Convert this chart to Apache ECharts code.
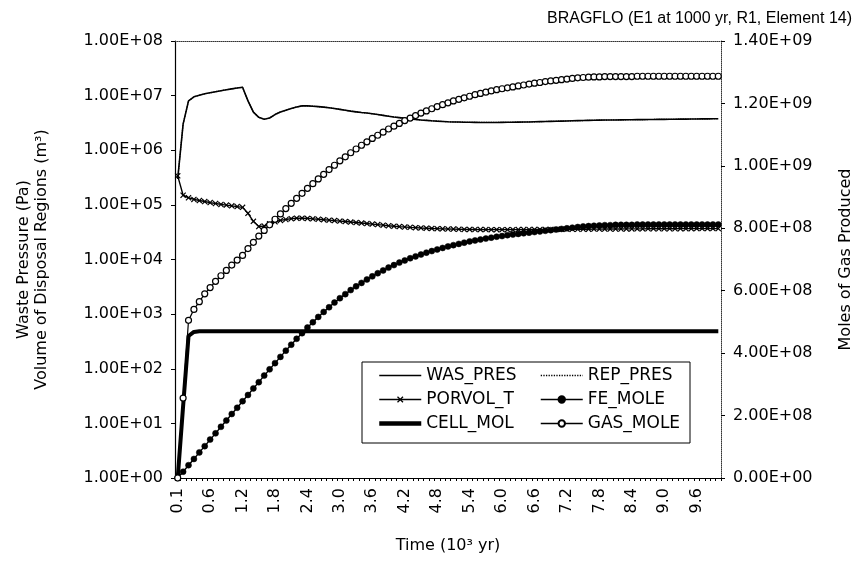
<!DOCTYPE html>
<html>
<head>
<meta charset="utf-8">
<script src="https://cdn.jsdelivr.net/npm/echarts@6/dist/echarts.min.js"></script>
<style>
html,body{margin:0;padding:0;background:#fff;}
#chart{width:862px;height:562px;}
</style>
</head>
<body>
<div id="chart"></div>
<script>
// Time categories (10^3 yr)
const times = ['0.1','0.1','0.2','0.3','0.4','0.5','0.6','0.7','0.8','0.9','1.0',
'1.1','1.2','1.3','1.4','1.5','1.6','1.7','1.8','1.9','2.0',
'2.1','2.2','2.3','2.4','2.5','2.6','2.7','2.8','2.9','3.0',
'3.1','3.2','3.3','3.4','3.5','3.6','3.7','3.8','3.9','4.0',
'4.1','4.2','4.3','4.4','4.5','4.6','4.7','4.8','4.9','5.0',
'5.1','5.2','5.3','5.4','5.5','5.6','5.7','5.8','5.9','6.0',
'6.1','6.2','6.3','6.4','6.5','6.6','6.7','6.8','6.9','7.0',
'7.1','7.2','7.3','7.4','7.5','7.6','7.7','7.8','7.9','8.0',
'8.1','8.2','8.3','8.4','8.5','8.6','8.7','8.8','8.9','9.0',
'9.1','9.2','9.3','9.4','9.5','9.6','9.7','9.8','9.9','10.0'];

// Waste pressure (Pa)
const wasPres = [3.0e5,3.0e6,8.0e6,9.5e6,1.02e7,1.08e7,1.13e7,1.18e7,1.23e7,1.28e7,1.33e7,
1.38e7,1.42e7,8.0e6,5.0e6,4.0e6,3.7e6,3.9e6,4.5e6,5.0e6,5.4e6,
5.8e6,6.2e6,6.5e6,6.5e6,6.4e6,6.3e6,6.15e6,6.0e6,5.8e6,5.6e6,
5.4e6,5.2e6,5.05e6,4.9e6,4.8e6,4.65e6,4.5e6,4.35e6,4.2e6,4.05e6,
3.95e6,3.85e6,3.75e6,3.65e6,3.58e6,3.52e6,3.46e6,3.41e6,3.37e6,3.33e6,
3.3e6,3.28e6,3.26e6,3.25e6,3.24e6,3.23e6,3.23e6,3.23e6,3.23e6,3.24e6,
3.25e6,3.26e6,3.27e6,3.28e6,3.3e6,3.32e6,3.34e6,3.36e6,3.38e6,3.4e6,
3.42e6,3.44e6,3.46e6,3.48e6,3.5e6,3.52e6,3.54e6,3.56e6,3.57e6,3.58e6,
3.59e6,3.6e6,3.61e6,3.62e6,3.63e6,3.64e6,3.65e6,3.66e6,3.67e6,3.68e6,
3.69e6,3.7e6,3.71e6,3.72e6,3.73e6,3.74e6,3.75e6,3.76e6,3.77e6,3.78e6];

// Repository pressure (Pa) - coincides with waste pressure
const repPres = [3.0e5,3.0e6,8.0e6,9.5e6,1.02e7,1.08e7,1.13e7,1.18e7,1.23e7,1.28e7,1.33e7,
1.38e7,1.42e7,8.0e6,5.0e6,4.0e6,3.7e6,3.9e6,4.5e6,5.0e6,5.4e6,
5.8e6,6.2e6,6.5e6,6.5e6,6.4e6,6.3e6,6.15e6,6.0e6,5.8e6,5.6e6,
5.4e6,5.2e6,5.05e6,4.9e6,4.8e6,4.65e6,4.5e6,4.35e6,4.2e6,4.05e6,
3.95e6,3.85e6,3.75e6,3.65e6,3.58e6,3.52e6,3.46e6,3.41e6,3.37e6,3.33e6,
3.3e6,3.28e6,3.26e6,3.25e6,3.24e6,3.23e6,3.23e6,3.23e6,3.23e6,3.24e6,
3.25e6,3.26e6,3.27e6,3.28e6,3.3e6,3.32e6,3.34e6,3.36e6,3.38e6,3.4e6,
3.42e6,3.44e6,3.46e6,3.48e6,3.5e6,3.52e6,3.54e6,3.56e6,3.57e6,3.58e6,
3.59e6,3.6e6,3.61e6,3.62e6,3.63e6,3.64e6,3.65e6,3.66e6,3.67e6,3.68e6,
3.69e6,3.7e6,3.71e6,3.72e6,3.73e6,3.74e6,3.75e6,3.76e6,3.77e6,3.78e6];

// Pore volume (m3)
const porvolT = [3.4e5,1.5e5,1.35e5,1.26e5,1.2e5,1.15e5,1.1e5,1.06e5,1.02e5,9.9e4,9.6e4,
9.3e4,9.0e4,7.0e4,5.0e4,4.0e4,4.1e4,4.5e4,4.9e4,5.2e4,5.4e4,
5.6e4,5.7e4,5.7e4,5.65e4,5.55e4,5.45e4,5.35e4,5.25e4,5.15e4,5.05e4,
4.95e4,4.85e4,4.75e4,4.65e4,4.55e4,4.45e4,4.35e4,4.25e4,4.15e4,4.07e4,
4.0e4,3.94e4,3.88e4,3.83e4,3.78e4,3.74e4,3.7e4,3.67e4,3.64e4,3.62e4,
3.6e4,3.58e4,3.56e4,3.55e4,3.54e4,3.53e4,3.53e4,3.52e4,3.52e4,3.52e4,
3.52e4,3.52e4,3.53e4,3.53e4,3.54e4,3.54e4,3.55e4,3.55e4,3.56e4,3.56e4,
3.57e4,3.57e4,3.58e4,3.58e4,3.59e4,3.59e4,3.6e4,3.6e4,3.61e4,3.61e4,
3.62e4,3.62e4,3.63e4,3.63e4,3.64e4,3.64e4,3.65e4,3.65e4,3.65e4,3.66e4,
3.66e4,3.66e4,3.67e4,3.67e4,3.67e4,3.68e4,3.68e4,3.68e4,3.68e4,3.68e4];

// Iron consumed (moles)
const feMole = [0,2.0e7,4.1e7,6.1e7,8.2e7,1.02e8,1.23e8,1.43e8,1.64e8,1.84e8,2.05e8,
2.25e8,2.46e8,2.66e8,2.87e8,3.07e8,3.28e8,3.48e8,3.68e8,3.88e8,4.08e8,
4.27e8,4.46e8,4.64e8,4.82e8,4.99e8,5.16e8,5.32e8,5.47e8,5.62e8,5.76e8,
5.89e8,6.02e8,6.14e8,6.25e8,6.36e8,6.46e8,6.56e8,6.65e8,6.74e8,6.82e8,
6.90e8,6.97e8,7.04e8,7.10e8,7.16e8,7.22e8,7.27e8,7.32e8,7.37e8,7.42e8,
7.46e8,7.50e8,7.54e8,7.58e8,7.61e8,7.64e8,7.67e8,7.70e8,7.73e8,7.75e8,
7.78e8,7.80e8,7.82e8,7.84e8,7.86e8,7.88e8,7.90e8,7.92e8,7.94e8,7.96e8,
7.98e8,8.00e8,8.02e8,8.04e8,8.06e8,8.07e8,8.08e8,8.09e8,8.10e8,8.10e8,
8.11e8,8.11e8,8.11e8,8.11e8,8.12e8,8.12e8,8.12e8,8.12e8,8.12e8,8.12e8,
8.12e8,8.12e8,8.12e8,8.12e8,8.12e8,8.12e8,8.12e8,8.12e8,8.12e8,8.12e8];

// Cellulose consumed (moles)
const cellMol = [0,2.3e8,4.55e8,4.68e8,4.7e8,4.7e8,4.7e8,4.7e8,4.7e8,4.7e8,4.7e8,
4.7e8,4.7e8,4.7e8,4.7e8,4.7e8,4.7e8,4.7e8,4.7e8,4.7e8,4.7e8,
4.7e8,4.7e8,4.7e8,4.7e8,4.7e8,4.7e8,4.7e8,4.7e8,4.7e8,4.7e8,
4.7e8,4.7e8,4.7e8,4.7e8,4.7e8,4.7e8,4.7e8,4.7e8,4.7e8,4.7e8,
4.7e8,4.7e8,4.7e8,4.7e8,4.7e8,4.7e8,4.7e8,4.7e8,4.7e8,4.7e8,
4.7e8,4.7e8,4.7e8,4.7e8,4.7e8,4.7e8,4.7e8,4.7e8,4.7e8,4.7e8,
4.7e8,4.7e8,4.7e8,4.7e8,4.7e8,4.7e8,4.7e8,4.7e8,4.7e8,4.7e8,
4.7e8,4.7e8,4.7e8,4.7e8,4.7e8,4.7e8,4.7e8,4.7e8,4.7e8,4.7e8,
4.7e8,4.7e8,4.7e8,4.7e8,4.7e8,4.7e8,4.7e8,4.7e8,4.7e8,4.7e8,
4.7e8,4.7e8,4.7e8,4.7e8,4.7e8,4.7e8,4.7e8,4.7e8,4.7e8,4.7e8];

// Gas produced (moles)
const gasMole = [0,2.56e8,5.05e8,5.4e8,5.65e8,5.9e8,6.1e8,6.3e8,6.48e8,6.65e8,6.82e8,
6.98e8,7.13e8,7.35e8,7.55e8,7.75e8,7.93e8,8.11e8,8.29e8,8.46e8,8.63e8,
8.8e8,8.96e8,9.12e8,9.28e8,9.43e8,9.58e8,9.73e8,9.88e8,1.002e9,1.016e9,
1.029e9,1.042e9,1.054e9,1.066e9,1.077e9,1.088e9,1.098e9,1.108e9,1.118e9,1.127e9,
1.136e9,1.145e9,1.153e9,1.161e9,1.169e9,1.176e9,1.183e9,1.19e9,1.196e9,1.202e9,
1.208e9,1.213e9,1.218e9,1.223e9,1.228e9,1.232e9,1.236e9,1.24e9,1.244e9,1.247e9,
1.25e9,1.253e9,1.256e9,1.259e9,1.262e9,1.265e9,1.267e9,1.27e9,1.272e9,1.274e9,
1.276e9,1.278e9,1.28e9,1.282e9,1.283e9,1.284e9,1.285e9,1.285e9,1.286e9,1.286e9,
1.286e9,1.286e9,1.286e9,1.286e9,1.287e9,1.287e9,1.287e9,1.287e9,1.287e9,1.287e9,
1.287e9,1.287e9,1.287e9,1.287e9,1.287e9,1.287e9,1.287e9,1.287e9,1.287e9,1.287e9];

const legendLeft = ['WAS_PRES', 'PORVOL_T', 'CELL_MOL'];
const legendRight = ['REP_PRES', 'FE_MOLE', 'GAS_MOLE'];

const FONT = '"DejaVu Sans", "Liberation Sans", Arial, sans-serif';
const TITLE_FONT = '"Liberation Sans", Arial, Helvetica, sans-serif';
function sci(v) {
  if (v === 0) return '0.00E+00';
  const s = Number(v).toExponential(2);
  const parts = s.split('e');
  let ex = parseInt(parts[1], 10);
  const sign = ex < 0 ? '-' : '+';
  ex = Math.abs(ex);
  return parts[0] + 'E' + sign + (ex < 10 ? '0' : '') + ex;
}

const xMark = 'path://M0,1.4L1.4,0L5,3.6L8.6,0L10,1.4L6.4,5L10,8.6L8.6,10L5,6.4L1.4,10L0,8.6L3.6,5Z';

const legendStyles = {
  WAS_PRES: {itemStyle: {opacity: 0}, lineStyle: {width: 1.5}},
  REP_PRES: {itemStyle: {opacity: 0}, lineStyle: {width: 1.3, type: 'dotted'}},
  PORVOL_T: {lineStyle: {width: 1.5}},
  FE_MOLE: {lineStyle: {width: 1.5}},
  CELL_MOL: {itemStyle: {opacity: 0}, lineStyle: {width: 4.5}},
  GAS_MOLE: {lineStyle: {width: 1.3}}
};
function legendData(names) {
  return names.map(n => Object.assign({name: n}, legendStyles[n]));
}
function makeLegend(names, left) {
  return {
    left: left, top: 367, orient: 'vertical', padding: 0,
    itemGap: 7, itemWidth: 42, itemHeight: 8,
    textStyle: {fontFamily: FONT, fontSize: 17, color: '#000'},
    z: 11,
    data: legendData(names)
  };
}

const chart = echarts.init(document.getElementById('chart'), null, {renderer: 'canvas'});
chart.setOption({
  animation: false,
  backgroundColor: '#ffffff',
  textStyle: {fontFamily: FONT, color: '#000'},
  title: {
    text: 'BRAGFLO (E1 at 1000 yr, R1, Element 14)',
    right: 5, top: 6,
    textStyle: {fontFamily: TITLE_FONT, fontSize: 16, fontWeight: 'normal', color: '#000'}
  },
  grid: {left: 175, right: 139, top: 41, bottom: 84, containLabel: false},
  graphic: [{
    type: 'rect', z: 10,
    shape: {x: 362, y: 362, width: 328, height: 81},
    style: {fill: '#fff', stroke: '#000', lineWidth: 1}
  }],
  legend: [makeLegend(legendLeft, 377), makeLegend(legendRight, 540)],
  xAxis: [{
    type: 'category', data: times, boundaryGap: true,
    name: 'Time (10³ yr)', nameLocation: 'middle', nameGap: 60,
    nameTextStyle: {fontFamily: FONT, fontSize: 16, color: '#000'},
    axisLine: {lineStyle: {color: '#000', width: 1.2}},
    axisTick: {show: true, interval: 0, length: 3, lineStyle: {color: '#000'}},
    axisLabel: {interval: 5, rotate: 90, margin: 10, fontFamily: FONT, fontSize: 16, color: '#000'},
    splitLine: {show: false}
  }, {
    type: 'category', data: times, boundaryGap: true, position: 'top',
    axisLine: {show: true, onZero: false, lineStyle: {color: '#333', width: 1, type: 'dotted'}},
    axisTick: {show: false}, axisLabel: {show: false}, splitLine: {show: false}
  }],
  yAxis: [{
    type: 'log', logBase: 10, min: 1, max: 1e8, splitNumber: 8,
    position: 'left',
    name: 'Waste Pressure (Pa)\nVolume of Disposal Regions (m³)',
    nameLocation: 'middle', nameGap: 124, nameRotate: 90,
    nameTextStyle: {fontFamily: FONT, fontSize: 16, color: '#000', lineHeight: 18, align: 'center'},
    axisLine: {show: true, lineStyle: {color: '#000', width: 1.2}},
    axisTick: {show: true, length: 4, lineStyle: {color: '#000'}},
    minorTick: {show: false},
    axisLabel: {margin: 12, fontFamily: FONT, fontSize: 16, color: '#000', formatter: sci},
    splitLine: {show: false}
  }, {
    type: 'value', min: 0, max: 1.4e9, interval: 2e8,
    position: 'right',
    name: 'Moles of Gas Produced',
    nameLocation: 'middle', nameGap: 117, nameRotate: 90,
    nameTextStyle: {fontFamily: FONT, fontSize: 16, color: '#000'},
    axisLine: {show: true, lineStyle: {color: '#333', width: 1, type: 'dotted'}},
    axisTick: {show: true, length: 4, inside: false, lineStyle: {color: '#000'}},
    axisLabel: {margin: 12, fontFamily: FONT, fontSize: 16, color: '#000', formatter: sci},
    splitLine: {show: false}
  }],
  series: [
    {name: 'REP_PRES', type: 'line', yAxisIndex: 0, data: repPres, showSymbol: false, symbol: 'none',
     lineStyle: {color: '#000', width: 1.2, type: 'dotted'}, itemStyle: {color: '#000'}, z: 1},
    {name: 'WAS_PRES', type: 'line', yAxisIndex: 0, data: wasPres, showSymbol: false, symbol: 'none',
     lineStyle: {color: '#000', width: 1.6}, itemStyle: {color: '#000'}, z: 2},
    {name: 'PORVOL_T', type: 'line', yAxisIndex: 0, data: porvolT, symbol: xMark, symbolSize: 6,
     showAllSymbol: true,
     lineStyle: {color: '#000', width: 1.4}, itemStyle: {color: '#000'}, z: 3},
    {name: 'FE_MOLE', type: 'line', yAxisIndex: 1, data: feMole, symbol: 'circle', symbolSize: 6,
     showAllSymbol: true,
     lineStyle: {color: '#000', width: 1.4}, itemStyle: {color: '#000', borderColor: '#000', borderWidth: 0.5}, z: 4},
    {name: 'CELL_MOL', type: 'line', yAxisIndex: 1, data: cellMol, showSymbol: false, symbol: 'none',
     lineStyle: {color: '#000', width: 4}, itemStyle: {color: '#000'}, z: 5},
    {name: 'GAS_MOLE', type: 'line', yAxisIndex: 1, data: gasMole, symbol: 'circle', symbolSize: 6,
     showAllSymbol: true,
     lineStyle: {color: '#000', width: 1.2}, itemStyle: {color: '#fff', borderColor: '#000', borderWidth: 1.2}, z: 6}
  ]
});
</script>
</body>
</html>
